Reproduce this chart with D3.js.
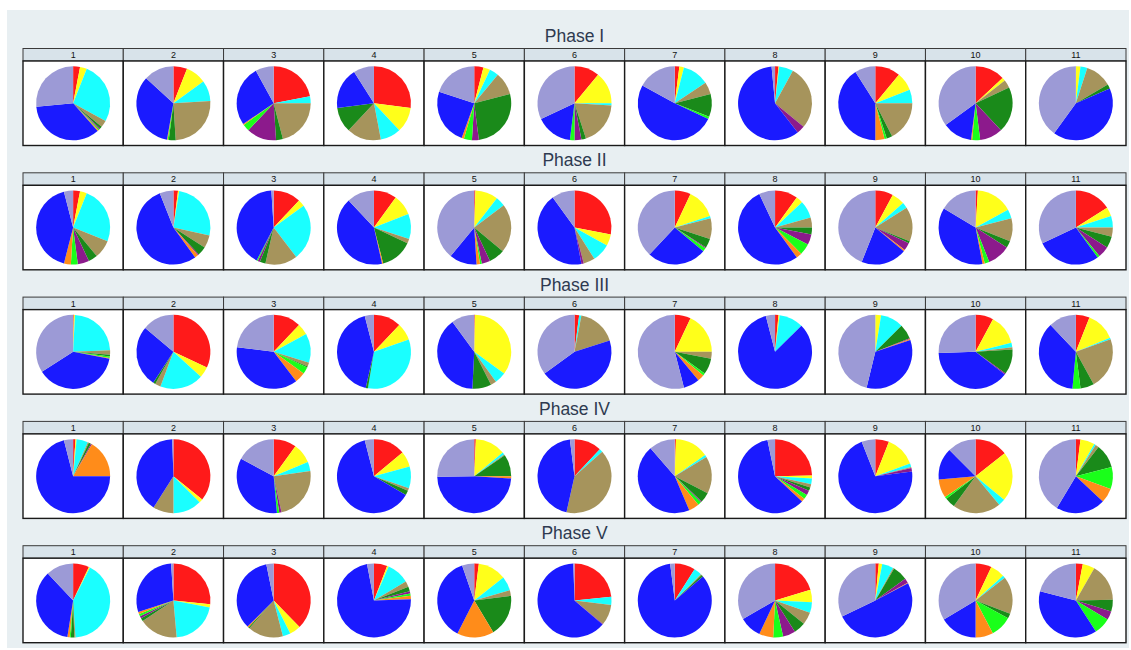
<!DOCTYPE html>
<html>
<head>
<meta charset="utf-8">
<script src="https://cdn.jsdelivr.net/npm/d3@7"></script>
<style>
html,body{margin:0;padding:0;background:#ffffff;}
svg{display:block;font-family:"Liberation Sans",Arial,Helvetica,sans-serif;}
</style>
</head>
<body>
<svg id="chart" width="1131" height="650"></svg>
<script>
// ---- data ----
const categories = ["1","2","3","4","5","6","7","8","9","10","11"];
const phases = ["Phase I","Phase II","Phase III","Phase IV","Phase V"];
const groups = ["A","B","C","D","E","F","G","H","I","J"];
const groupColors = ["#ff1a1a","#ffff1a","#1affff","#a6945c","#1a8a1a","#8c1a8c","#1aff1a","#ff8c1a","#1a1aff","#9c9ad6"];

// each row: values for groups A..J, one row per category
const phase1 = [
  [3,3,27,3,1,0.5,0.5,0.5,35,26.5],
  [6,9,9,25,3,0,0.5,0.3,34,13.2],
  [22,0,3,21,3,13,3,0.5,26.5,8],
  [27,11,9,15,11,0,0,0,18,9],
  [4,3,4,10,27,3,3.5,1,24.5,20],
  [11,14,1,19,2,3,2,0,16,32],
  [2,2,11.6,5.4,10,0,1,0,51,17],
  [1.5,0.3,6.2,28,0,3.5,0,0,59,1.5],
  [11,8,6,17.5,2.5,0,1,4,41,9],
  [13,1.5,0,3.5,20,10,3.5,0.5,13,35],
  [0,2,3,11.6,1.9,0,0,0,41.5,40]
];
const phase2 = [
  [3,3,25,8,4,5,3,3,42,4],
  [2,0.5,26,5.5,4,0.5,0,1.5,54,6],
  [12,3,24.6,14,2.5,1,0.5,0,41.4,1],
  [10,9,11,2,14,0,0,0.5,41.5,12],
  [0.5,10,4.2,21.3,7,3.7,0.8,1.5,12,39],
  [28,5,8,5,0,1,0,0,43,10],
  [7,13,1,9,4,0.5,1.5,0,26,38],
  [10,3,7.6,4.4,3,4.6,4.9,2.5,53,7],
  [7.8,5.7,2.5,15,1,3.4,0,0.6,20,44],
  [1,16,4,10,3,10,2,1,36.6,16.4],
  [16,4,5,4,5,5,1,0,28,32]
];
const phase3 = [
  [0.3,0.5,23.5,2,0.7,0,0.7,0.3,38,34],
  [32,4.7,19,2.5,1,0,0,0,27,13.8],
  [12,5,12.8,1.7,0.5,0,3,4.6,37.4,23],
  [12,7.6,33,0,1,0,0,0,42.4,4],
  [0.3,34.7,5,2.5,8.3,0,0,0,39.2,10],
  [2,0,1,17,0,0,0,0,45,35],
  [7,18,0,3,7,0,1,3,7,54],
  [1.5,0.5,10.6,0,0,0,0,0,83.4,4],
  [0,2.5,10,0,6.5,0.3,0,0.5,34,46.2],
  [7.8,13.2,2,1,11,0.5,0,0,39,25.5],
  [6,12.75,0.75,22.5,6,0,3.5,0,36.5,12]
];
const phase4 = [
  [1,0.5,5,0.5,1,0.5,0,16.5,71,4],
  [35.8,1.7,12.5,9,0,0,0,0,40.5,0.5],
  [10,8.8,4,23.8,0,1,1,0,34.2,17.2],
  [14,6.8,9.5,1.2,2,0,0,0,62.5,4],
  [0.7,13.3,1,0.5,9.5,0,0,1,48.7,25.3],
  [12,0,1.5,40,0,0,0,0,44.5,2],
  [0.5,14.8,1,16.3,4.4,0.5,1.5,4.6,45,11.4],
  [24.7,1.3,2.5,1.5,1.5,2,2,1.5,59.7,3.3],
  [6,13.5,1.5,0.5,0,1.5,0,0,71,6],
  [14.4,21.6,3,21,4.5,0,1,8.1,13.9,12.5],
  [2,6.3,0.7,1.5,10.5,0,9.6,6.4,21.6,41.4]
];
const phase5 = [
  [7,0.5,41.5,0.5,1.5,0,0.5,1,35.5,12],
  [26.6,1.4,20.6,17,1.4,1,1,1,29,1],
  [37.7,4.9,3.4,15.4,0.6,0,0,0.5,34.3,3.2],
  [5.8,0.7,10,2.5,2,1,1,1.5,72.5,3],
  [2,12.4,6.2,2.4,18.4,0,0,16.1,37.2,5.3],
  [23.4,0,3.6,9,0,0.3,0,0,63.2,0.5],
  [9,0,3.5,0.5,0.8,0,0,0,84.2,2],
  [20.3,5.5,4.6,5.4,5.2,5.5,4.3,6.2,9.7,33.3],
  [1.5,1.5,5,0.5,6.5,2,0,0.3,50.5,32.2],
  [7,6.3,1.2,16.3,2.2,0,9.3,7.7,16.4,33.6],
  [3,5.3,0,16.4,5.1,3.8,7.3,0,38.1,21]
];
const phaseData = [phase1, phase2, phase3, phase4, phase5];

// ---- layout ----
const svg = d3.select("#chart");
const W = 1131, H = 650;
const panelX0 = 23, panelX1 = 1126;
const firstStripTop = 48.5, rowPitch = 124.3;
const stripH = 12.5, bodyH = 84.5;
const radius = 37;

svg.append("rect").attr("x", 7).attr("y", 10).attr("width", W - 9).attr("height", H - 12)
  .attr("fill", "#e8eff2");

const x = d3.scaleBand().domain(categories).range([panelX0, panelX1]).padding(0);
const y = d3.scaleBand().domain(phases).range([firstStripTop, firstStripTop + rowPitch * phases.length]).padding(0);
const color = d3.scaleOrdinal().domain(groups).range(groupColors);
const pie = d3.pie().sort(null).value(d => d.v);
const arc = d3.arc().innerRadius(0).outerRadius(radius);

phases.forEach((ph, pi) => {
  const top = y(ph);
  const g = svg.append("g");
  g.append("text")
    .attr("x", (panelX0 + panelX1) / 2)
    .attr("y", top - 6.5)
    .attr("text-anchor", "middle")
    .attr("font-size", 17.5)
    .attr("fill", "#2e3a50")
    .text(ph);

  categories.forEach((c, ci) => {
    const cx = x(c), w = x.bandwidth();
    const cell = g.append("g");
    cell.append("rect").attr("x", cx).attr("y", top).attr("width", w).attr("height", stripH)
      .attr("fill", "#d8e3ea").attr("stroke", "#3a3a3a").attr("stroke-width", 1);
    cell.append("text").attr("x", cx + w / 2).attr("y", top + stripH / 2 + 3.3)
      .attr("text-anchor", "middle").attr("font-size", 9).attr("fill", "#111").text(c);
    cell.append("rect").attr("x", cx).attr("y", top + stripH).attr("width", w).attr("height", bodyH)
      .attr("fill", "#ffffff").attr("stroke", "#1a1a1a").attr("stroke-width", 1.4);
    const vals = phaseData[pi][ci].map((v, k) => ({ g: groups[k], v: v }));
    cell.append("g")
      .attr("transform", `translate(${cx + w / 2},${top + stripH + bodyH / 2})`)
      .selectAll("path")
      .data(pie(vals))
      .join("path")
      .attr("d", arc)
      .attr("fill", d => color(d.data.g));
  });
});
</script>
</body>
</html>
